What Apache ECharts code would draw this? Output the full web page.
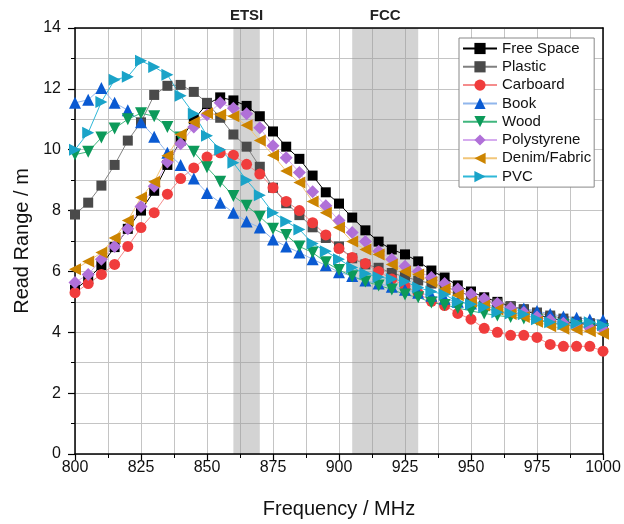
<!DOCTYPE html>
<html>
<head>
<meta charset="utf-8">
<script src="https://cdn.jsdelivr.net/npm/echarts@6/dist/echarts.min.js"></script>
<style>
  html, body { margin: 0; padding: 0; background: #fff; }
  #chart { width: 624px; height: 524px; }
</style>
</head>
<body>
<div id="chart"></div>
<script>
// Frequency sweep (MHz)
var freqs = [800, 805, 810, 815, 820, 825, 830, 835, 840, 845, 850, 855, 860, 865, 870, 875, 880, 885, 890, 895,
             900, 905, 910, 915, 920, 925, 930, 935, 940, 945, 950, 955, 960, 965, 970, 975, 980, 985, 990, 995, 1000];

// Read range (m) per mounting material
var freeSpace = [5.40, 5.75, 6.20, 6.80, 7.40, 8.00, 8.65, 9.50, 10.30, 11.00, 11.50, 11.72, 11.62, 11.44, 11.10, 10.60, 10.10, 9.70, 9.15, 8.60,
                 8.23, 7.77, 7.35, 6.98, 6.72, 6.56, 6.33, 6.03, 5.80, 5.54, 5.34, 5.15, 5.00, 4.85, 4.75, 4.56, 4.49, 4.36, 4.30, 4.25, 4.22];
var plastic = [7.87, 8.26, 8.82, 9.50, 10.30, 10.90, 11.80, 12.10, 12.13, 11.90, 11.54, 11.05, 10.50, 10.10, 9.44, 8.75, 8.24, 7.85, 7.45, 7.10,
               6.82, 6.43, 6.23, 6.12, 5.95, 5.82, 5.70, 5.60, 5.50, 5.35, 5.20, 5.05, 4.95, 4.85, 4.75, 4.65, 4.55, 4.45, 4.35, 4.30, 4.25];
var carboard = [5.30, 5.60, 5.90, 6.23, 6.82, 7.44, 7.93, 8.54, 9.05, 9.40, 9.76, 9.90, 9.82, 9.52, 9.20, 8.75, 8.30, 8.00, 7.60, 7.20,
                6.75, 6.46, 6.26, 6.00, 5.75, 5.52, 5.28, 5.02, 4.88, 4.62, 4.43, 4.13, 4.00, 3.90, 3.90, 3.83, 3.60, 3.54, 3.54, 3.54, 3.38];
var book = [11.54, 11.64, 12.03, 11.54, 11.30, 10.90, 10.43, 9.90, 9.50, 9.05, 8.58, 8.26, 7.93, 7.64, 7.44, 7.05, 6.82, 6.62, 6.40, 6.20,
            5.97, 5.85, 5.70, 5.60, 5.50, 5.40, 5.30, 5.20, 5.10, 5.00, 4.95, 4.90, 4.85, 4.80, 4.78, 4.70, 4.60, 4.52, 4.48, 4.42, 4.40];
var wood = [9.84, 9.93, 10.40, 10.70, 11.00, 11.20, 11.10, 10.75, 10.40, 9.93, 9.42, 8.95, 8.48, 8.16, 7.80, 7.40, 7.20, 6.82, 6.62, 6.30,
            6.05, 5.84, 5.67, 5.54, 5.41, 5.24, 5.15, 4.98, 4.90, 4.80, 4.70, 4.62, 4.55, 4.50, 4.45, 4.40, 4.30, 4.25, 4.20, 4.15, 4.10];
var polystyrene = [5.64, 5.90, 6.40, 6.82, 7.40, 8.13, 8.80, 9.60, 10.20, 10.75, 11.15, 11.54, 11.36, 11.18, 10.72, 10.13, 9.74, 9.25, 8.62, 8.16,
                   7.67, 7.28, 6.98, 6.66, 6.40, 6.17, 6.00, 5.80, 5.60, 5.42, 5.25, 5.10, 4.95, 4.80, 4.65, 4.50, 4.40, 4.30, 4.20, 4.15, 4.10];
var denim = [6.07, 6.33, 6.62, 7.10, 7.67, 8.43, 8.95, 9.80, 10.50, 10.90, 11.20, 11.15, 11.10, 10.80, 10.30, 9.82, 9.30, 8.92, 8.30, 7.93,
             7.44, 6.98, 6.72, 6.56, 6.23, 6.00, 5.90, 5.65, 5.42, 5.22, 5.00, 4.88, 4.75, 4.60, 4.50, 4.35, 4.20, 4.12, 4.08, 4.03, 3.95];
var pvc = [10.00, 10.56, 11.57, 12.30, 12.40, 12.92, 12.72, 12.46, 11.77, 11.18, 10.46, 10.00, 9.57, 9.00, 8.50, 7.93, 7.64, 7.38, 6.92, 6.66,
           6.40, 6.13, 5.93, 5.82, 5.75, 5.67, 5.47, 5.34, 5.24, 5.00, 4.92, 4.82, 4.66, 4.62, 4.59, 4.43, 4.33, 4.26, 4.30, 4.33, 4.23];

// Regulatory UHF RFID bands (MHz)
var bands = [
  { name: 'ETSI', from: 860, to: 870 },
  { name: 'FCC', from: 905, to: 930 }
];

var FONT = '"Liberation Sans", Arial, sans-serif';

function pairs(values) {
  return freqs.map(function (f, i) { return [f, values[i]]; });
}

function makeSeries(name, values, symbol, size, rotate, markerColor, lineColor) {
  return {
    name: name,
    type: 'line',
    data: pairs(values),
    symbol: symbol,
    symbolSize: size,
    symbolRotate: rotate,
    showAllSymbol: true,
    itemStyle: { color: markerColor, opacity: 1 },
    lineStyle: { color: lineColor, width: 1 },
    emphasis: { disabled: true },
    animation: false
  };
}

var series = [
  makeSeries('Free Space', freeSpace, 'rect', 10, 0, '#000000', '#000000'),
  makeSeries('Plastic', plastic, 'rect', 10, 0, '#4a4a4a', '#808080'),
  makeSeries('Carboard', carboard, 'circle', 11, 0, '#f03c3c', '#f58c8c'),
  makeSeries('Book', book, 'triangle', 12, 0, '#0a5ad2', '#90b6ec'),
  makeSeries('Wood', wood, 'triangle', 12, 180, '#0c9a5a', '#40b67e'),
  makeSeries('Polystyrene', polystyrene, 'diamond', 13, 0, '#b070d8', '#d6acef'),
  makeSeries('Denim/Fabric', denim, 'triangle', 12, 90, '#cc8400', '#f2c679'),
  makeSeries('PVC', pvc, 'triangle', 12, -90, '#1aa3c8', '#2fb8d8')
];

// Shaded frequency bands with their labels above the plot
series[0].markArea = {
  silent: true,
  z: 0,
  itemStyle: { color: 'rgba(150,150,150,0.42)' },
  label: {
    show: true,
    position: 'top',
    distance: 5,
    color: '#222',
    fontFamily: FONT,
    fontWeight: 'bold',
    fontSize: 15
  },
  data: bands.map(function (b) {
    return [{ name: b.name, xAxis: b.from }, { xAxis: b.to }];
  })
};

var chart = echarts.init(document.getElementById('chart'), null, { renderer: 'canvas' });

chart.setOption({
  animation: false,
  backgroundColor: '#ffffff',
  grid: { left: 75, right: 21, top: 28, bottom: 69, containLabel: false },
  legend: {
    orient: 'vertical',
    left: 459,
    top: 38,
    padding: [3, 3, 3, 3],
    itemWidth: 34,
    itemHeight: 14,
    itemGap: 3.3,
    borderColor: '#888',
    borderWidth: 1,
    backgroundColor: '#fff',
    textStyle: { fontFamily: FONT, fontSize: 15, color: '#111' },
    data: series.map(function (s) { return s.name; })
  },
  xAxis: [{
    type: 'value',
    min: 800,
    max: 1000,
    interval: 25,
    name: 'Frequency / MHz',
    nameLocation: 'middle',
    nameGap: 45,
    nameTextStyle: { fontFamily: FONT, fontSize: 20, color: '#111' },
    axisLine: { show: true, onZero: false, lineStyle: { color: '#000', width: 1.5 } },
    axisTick: { show: true, inside: false, length: 6, lineStyle: { color: '#000', width: 1.2 } },
    minorTick: { show: true, splitNumber: 2, length: 4, lineStyle: { color: '#000', width: 1 } },
    axisLabel: {
      margin: 6, fontFamily: FONT, fontSize: 16, color: '#111',
      formatter: function (v) { return String(v); }
    },
    splitLine: { show: true, lineStyle: { color: '#c4c4c4', width: 1 } },
    minorSplitLine: { show: true, lineStyle: { color: '#c4c4c4', width: 1 } }
  }, {
    type: 'value',
    position: 'top',
    min: 800,
    max: 1000,
    axisLine: { show: true, onZero: false, lineStyle: { color: '#000', width: 1.5 } },
    axisTick: { show: false },
    axisLabel: { show: false },
    splitLine: { show: false }
  }],
  yAxis: [{
    type: 'value',
    min: 0,
    max: 14,
    interval: 2,
    name: 'Read Range / m',
    nameLocation: 'middle',
    nameGap: 42,
    nameTextStyle: { fontFamily: FONT, fontSize: 20, color: '#111' },
    axisLine: { show: true, onZero: false, lineStyle: { color: '#000', width: 1.5 } },
    axisTick: { show: true, inside: false, length: 7, lineStyle: { color: '#000', width: 1.2 } },
    minorTick: { show: true, splitNumber: 2, length: 4, lineStyle: { color: '#000', width: 1 } },
    axisLabel: { margin: 14, fontFamily: FONT, fontSize: 16, color: '#111' },
    splitLine: { show: true, lineStyle: { color: '#c4c4c4', width: 1 } },
    minorSplitLine: { show: true, lineStyle: { color: '#c4c4c4', width: 1 } }
  }, {
    type: 'value',
    position: 'right',
    min: 0,
    max: 14,
    axisLine: { show: true, onZero: false, lineStyle: { color: '#000', width: 1.5 } },
    axisTick: { show: false },
    axisLabel: { show: false },
    splitLine: { show: false }
  }],
  series: series
});
</script>
</body>
</html>
